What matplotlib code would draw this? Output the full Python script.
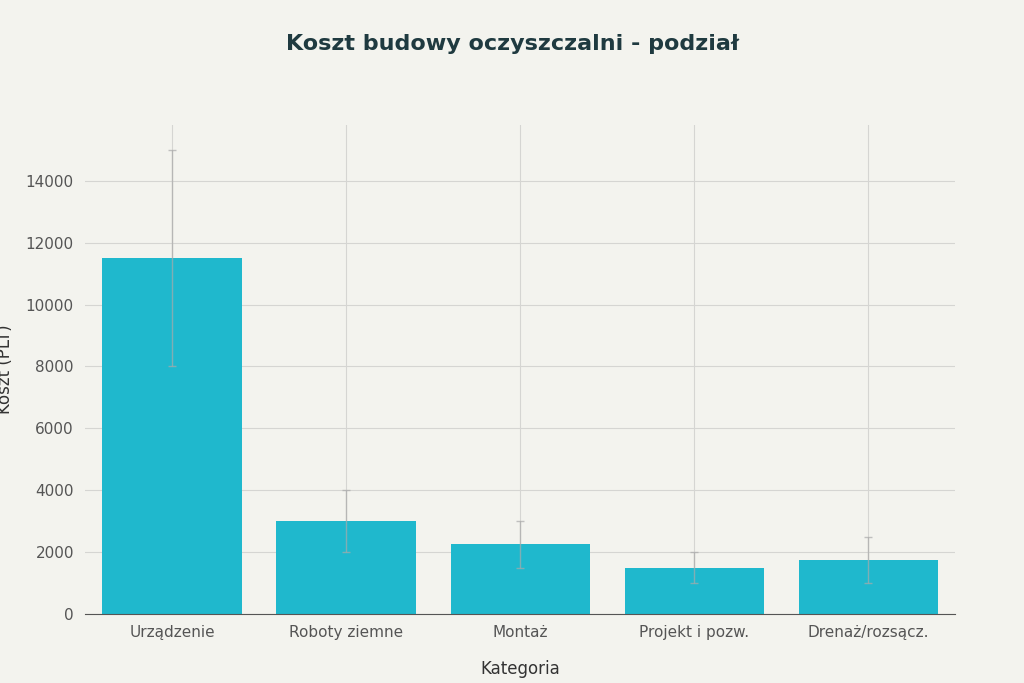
import matplotlib
matplotlib.use("Agg")
import matplotlib.pyplot as plt

categories = ["Urządzenie", "Roboty ziemne", "Montaż", "Projekt i pozw.", "Drenaż/rozsącz."]
values = [11500, 3000, 2250, 1500, 1750]
low = [8000, 2000, 1500, 1000, 1000]
high = [15000, 4000, 3000, 2000, 2500]

bg = "#F3F3EE"
fig = plt.figure(figsize=(10.24, 6.83), dpi=100, facecolor=bg)
ax = fig.add_axes([0.083, 0.101, 0.85, 0.716], facecolor=bg)
x = range(len(categories))
yerr = [[v - l for v, l in zip(values, low)], [h - v for v, h in zip(values, high)]]
ax.bar(x, values, width=0.8, color="#1FB8CD", zorder=2)
ax.errorbar(x, values, yerr=yerr, fmt="none", ecolor="#AAAAAA", elinewidth=1, capsize=3, alpha=0.7, zorder=3)
ax.set_ylim(0, 15800)
ax.set_xlim(-0.5, 4.5)
ax.set_yticks(range(0, 15000, 2000))
ax.set_xticks(list(x))
ax.set_xticklabels(categories)
ax.grid(True, color="#D5D5D2", linewidth=0.8, zorder=0)
for s in ["top", "right", "left"]:
    ax.spines[s].set_visible(False)
ax.spines["bottom"].set_color("#555555")
ax.tick_params(length=0, labelsize=11, colors="#555555", pad=8)
ax.set_xlabel("Kategoria", fontsize=12, color="#333333", labelpad=14)
ax.set_ylabel("Koszt (PLT)", fontsize=12, color="#333333")
ax.yaxis.set_label_coords(-0.082, 0.5)
fig.suptitle("Koszt budowy oczyszczalni - podział", y=0.95, fontsize=16, fontweight="bold", color="#1F3A40")
fig.savefig("out.png", dpi=100, facecolor=bg)
